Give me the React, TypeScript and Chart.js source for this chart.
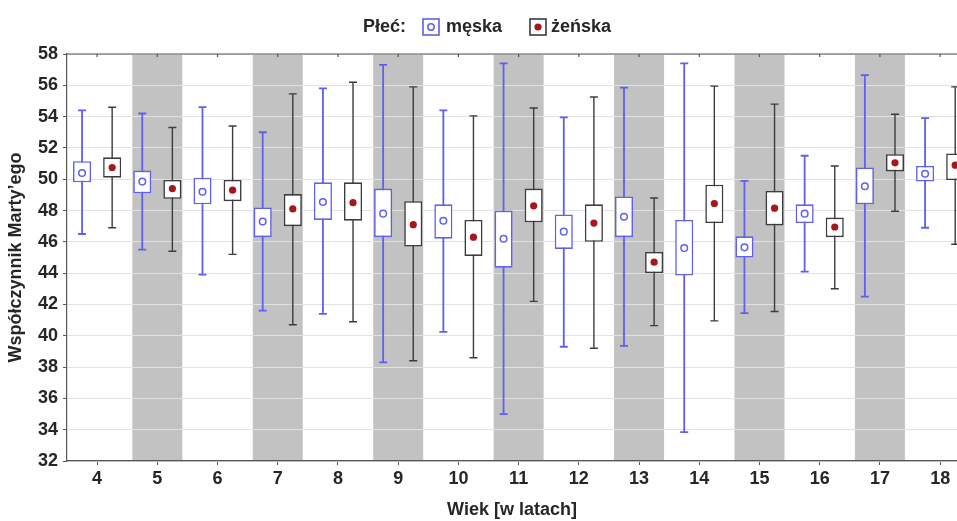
import React, { useEffect, useRef } from 'react';
import { Chart, registerables } from 'chart.js';

Chart.register(...registerables);

// Age categories (years)
const ages = [4, 5, 6, 7, 8, 9, 10, 11, 12, 13, 14, 15, 16, 17, 18];
const shadedAges = [5, 7, 9, 11, 13, 15, 17];

// męska (male)
const maleWhiskerLow = [46.5, 45.5, 43.9, 41.6, 41.4, 38.3, 40.25, 35.0, 39.3, 39.35, 33.85, 41.45, 44.1, 42.5, 46.9];
const maleBoxLow = [49.8, 49.1, 48.4, 46.3, 47.4, 46.3, 46.2, 44.35, 45.55, 46.3, 43.85, 45.0, 47.2, 48.4, 49.85];
const maleMean = [50.4, 49.85, 49.2, 47.3, 48.55, 47.8, 47.35, 46.2, 46.65, 47.6, 45.6, 45.65, 47.8, 49.55, 50.35];
const maleBoxHigh = [51.15, 50.55, 50.1, 48.2, 49.8, 49.4, 48.4, 48.0, 47.75, 48.9, 47.4, 46.35, 48.4, 50.75, 50.85];
const maleWhiskerHigh = [54.4, 54.2, 54.6, 53.0, 55.8, 57.3, 54.4, 57.4, 53.95, 55.85, 57.4, 49.9, 51.5, 56.65, 53.9];

// żeńska (female)
const femaleWhiskerLow = [46.9, 45.4, 45.2, 40.7, 40.9, 38.4, 38.6, 42.2, 39.2, 40.65, 40.95, 41.55, 43.0, 47.95, 45.85];
const femaleBoxLow = [50.1, 48.75, 48.6, 47.0, 47.35, 45.7, 45.1, 47.25, 46.0, 44.0, 47.2, 47.05, 46.3, 50.5, 49.95];
const femaleMean = [50.75, 49.4, 49.3, 48.1, 48.5, 47.1, 46.3, 48.3, 47.2, 44.7, 48.45, 48.15, 46.95, 51.05, 50.9];
const femaleBoxHigh = [51.4, 49.95, 49.95, 49.05, 49.8, 48.6, 47.4, 49.4, 48.4, 45.35, 49.65, 49.25, 47.55, 51.6, 51.65];
const femaleWhiskerHigh = [54.6, 53.3, 53.4, 55.45, 56.2, 55.9, 54.05, 54.55, 55.25, 48.8, 55.95, 54.8, 50.85, 54.15, 55.9];

const yTicks = [32, 34, 36, 38, 40, 42, 44, 46, 48, 50, 52, 54, 56, 58];

const MALE_COLOR = '#5f5ff0';
const FEMALE_COLOR = '#3c3c3c';
const FEMALE_MARK = '#a8161c';
const TEXT_COLOR = '#262626';
const FONT = "'Liberation Sans', Arial, sans-serif";

const series = [
  { low: maleWhiskerLow, high: maleWhiskerHigh, mean: maleMean, color: MALE_COLOR, width: 1.8 },
  { low: femaleWhiskerLow, high: femaleWhiskerHigh, mean: femaleMean, color: FEMALE_COLOR, width: 1.4 },
];

function clipArea(ctx: CanvasRenderingContext2D, a: any) {
  ctx.beginPath();
  ctx.rect(a.left, a.top, a.right - a.left, a.bottom - a.top);
  ctx.clip();
}

const boxPlotPlugin = {
  id: 'boxplotExtras',
  beforeDraw(chart: any) {
    const { ctx, chartArea, scales } = chart;
    const x = scales.x;
    ctx.save();
    clipArea(ctx, chartArea);
    ctx.fillStyle = '#c2c2c2';
    shadedAges.forEach((a) => {
      const l = x.getPixelForValue(a - 0.415);
      const r = x.getPixelForValue(a + 0.415);
      ctx.fillRect(l, chartArea.top, r - l, chartArea.bottom - chartArea.top);
    });
    ctx.restore();
  },
  beforeDatasetsDraw(chart: any) {
    const { ctx, chartArea, scales } = chart;
    const y = scales.y;
    ctx.save();
    clipArea(ctx, chartArea);
    series.forEach((s, d) => {
      const meta = chart.getDatasetMeta(d);
      ctx.strokeStyle = s.color;
      ctx.lineWidth = s.width;
      meta.data.forEach((bar: any, j: number) => {
        const px = bar.x;
        const yl = y.getPixelForValue(s.low[j]);
        const yh = y.getPixelForValue(s.high[j]);
        ctx.beginPath();
        ctx.moveTo(px, yl);
        ctx.lineTo(px, yh);
        ctx.moveTo(px - 4, yl);
        ctx.lineTo(px + 4, yl);
        ctx.moveTo(px - 4, yh);
        ctx.lineTo(px + 4, yh);
        ctx.stroke();
      });
    });
    ctx.restore();
  },
  afterDatasetsDraw(chart: any) {
    const { ctx, chartArea, scales } = chart;
    const y = scales.y;
    const x = scales.x;
    ctx.save();
    clipArea(ctx, chartArea);
    series.forEach((s, d) => {
      const meta = chart.getDatasetMeta(d);
      meta.data.forEach((bar: any, j: number) => {
        const px = bar.x;
        const py = y.getPixelForValue(s.mean[j]);
        ctx.beginPath();
        if (d === 0) {
          ctx.strokeStyle = MALE_COLOR;
          ctx.lineWidth = 1.5;
          ctx.arc(px, py, 3.3, 0, Math.PI * 2);
          ctx.stroke();
        } else {
          ctx.fillStyle = FEMALE_MARK;
          ctx.arc(px, py, 3.6, 0, Math.PI * 2);
          ctx.fill();
        }
      });
    });
    ctx.restore();

    // top frame line with tick marks
    ctx.save();
    ctx.strokeStyle = '#555';
    ctx.lineWidth = 1.2;
    ctx.beginPath();
    ctx.moveTo(chartArea.left, chartArea.top);
    ctx.lineTo(chartArea.right, chartArea.top);
    ages.forEach((a) => {
      const px = x.getPixelForValue(a);
      ctx.moveTo(px, chartArea.top);
      ctx.lineTo(px, chartArea.top + 3);
    });
    ctx.stroke();
    ctx.restore();
  },
  afterDraw(chart: any) {
    const { ctx } = chart;
    ctx.save();
    ctx.font = `bold 18px ${FONT}`;
    ctx.fillStyle = TEXT_COLOR;
    ctx.textBaseline = 'middle';
    ctx.textAlign = 'left';
    const cy = 27;
    ctx.fillText('Płeć:', 363, cy);
    const drawIcon = (ix: number, border: string, male: boolean) => {
      ctx.fillStyle = '#fff';
      ctx.fillRect(ix, cy - 8, 16, 16);
      ctx.strokeStyle = border;
      ctx.lineWidth = 1.6;
      ctx.strokeRect(ix, cy - 8, 16, 16);
      ctx.beginPath();
      ctx.arc(ix + 8, cy, male ? 3.2 : 3.6, 0, Math.PI * 2);
      if (male) {
        ctx.strokeStyle = MALE_COLOR;
        ctx.lineWidth = 1.5;
        ctx.stroke();
      } else {
        ctx.fillStyle = FEMALE_MARK;
        ctx.fill();
      }
    };
    drawIcon(423, MALE_COLOR, true);
    ctx.fillStyle = TEXT_COLOR;
    ctx.fillText('męska', 446, cy);
    drawIcon(530, FEMALE_COLOR, false);
    ctx.fillStyle = TEXT_COLOR;
    ctx.fillText('żeńska', 551, cy);
    ctx.restore();
  },
};

export default function App() {
  const canvasRef = useRef<HTMLCanvasElement | null>(null);

  useEffect(() => {
    const canvas = canvasRef.current;
    if (!canvas) return;
    const chart = new Chart(canvas, {
      type: 'bar',
      data: {
        datasets: [
          {
            label: 'męska',
            data: ages.map((a, i) => ({ x: a, y: [maleBoxLow[i], maleBoxHigh[i]] })) as any,
            backgroundColor: '#ffffff',
            borderColor: MALE_COLOR,
            borderWidth: 1.6,
            borderSkipped: false,
            categoryPercentage: 1.0,
            barPercentage: 0.6,
          },
          {
            label: 'żeńska',
            data: ages.map((a, i) => ({ x: a, y: [femaleBoxLow[i], femaleBoxHigh[i]] })) as any,
            backgroundColor: '#ffffff',
            borderColor: FEMALE_COLOR,
            borderWidth: 1.6,
            borderSkipped: false,
            categoryPercentage: 1.0,
            barPercentage: 0.6,
          },
        ],
      },
      options: {
        responsive: false,
        animation: false,
        layout: { padding: { top: 54, left: 0, right: 0, bottom: 0 } },
        plugins: {
          legend: { display: false },
          tooltip: { enabled: false },
        },
        scales: {
          x: {
            type: 'linear',
            offset: false,
            min: 3.5,
            max: 18.28,
            afterBuildTicks: (scale: any) => {
              scale.ticks = ages.map((v) => ({ value: v }));
            },
            afterFit: (scale: any) => {
              scale.height = 60;
            },
            grid: {
              offset: false,
              drawOnChartArea: false,
              tickLength: 4,
              tickColor: '#555',
            },
            border: { color: '#555', width: 1.2 },
            ticks: {
              padding: 3,
              color: TEXT_COLOR,
              font: { family: FONT, size: 18, weight: 'bold' },
              callback: (v: any) => String(v),
            },
            title: {
              display: true,
              text: 'Wiek [w latach]',
              color: TEXT_COLOR,
              font: { family: FONT, size: 18, weight: 'bold' },
              padding: { top: 0, bottom: 0 },
            },
          },
          y: {
            type: 'linear',
            min: 32,
            max: 58,
            afterBuildTicks: (scale: any) => {
              scale.ticks = yTicks.map((v) => ({ value: v }));
            },
            afterFit: (scale: any) => {
              scale.width = 67;
            },
            grid: {
              color: '#e2e2e2',
              tickColor: '#555',
              tickLength: 4,
            },
            border: { color: '#555', width: 1.2 },
            ticks: {
              padding: 5,
              color: TEXT_COLOR,
              font: { family: FONT, size: 18, weight: 'bold' },
            },
            title: {
              display: true,
              text: 'Współczynnik Marty’ego',
              color: TEXT_COLOR,
              font: { family: FONT, size: 18, weight: 'bold' },
              padding: { top: 5, bottom: 0 },
            },
          },
        },
      } as any,
      plugins: [boxPlotPlugin],
    });
    return () => chart.destroy();
  }, []);

  return (
    <div style={{ position: 'absolute', left: 0, top: 0, width: 957, height: 521, background: '#fff', overflow: 'hidden' }}>
      <canvas ref={canvasRef} width={957} height={521} style={{ display: 'block' }} />
    </div>
  );
}
